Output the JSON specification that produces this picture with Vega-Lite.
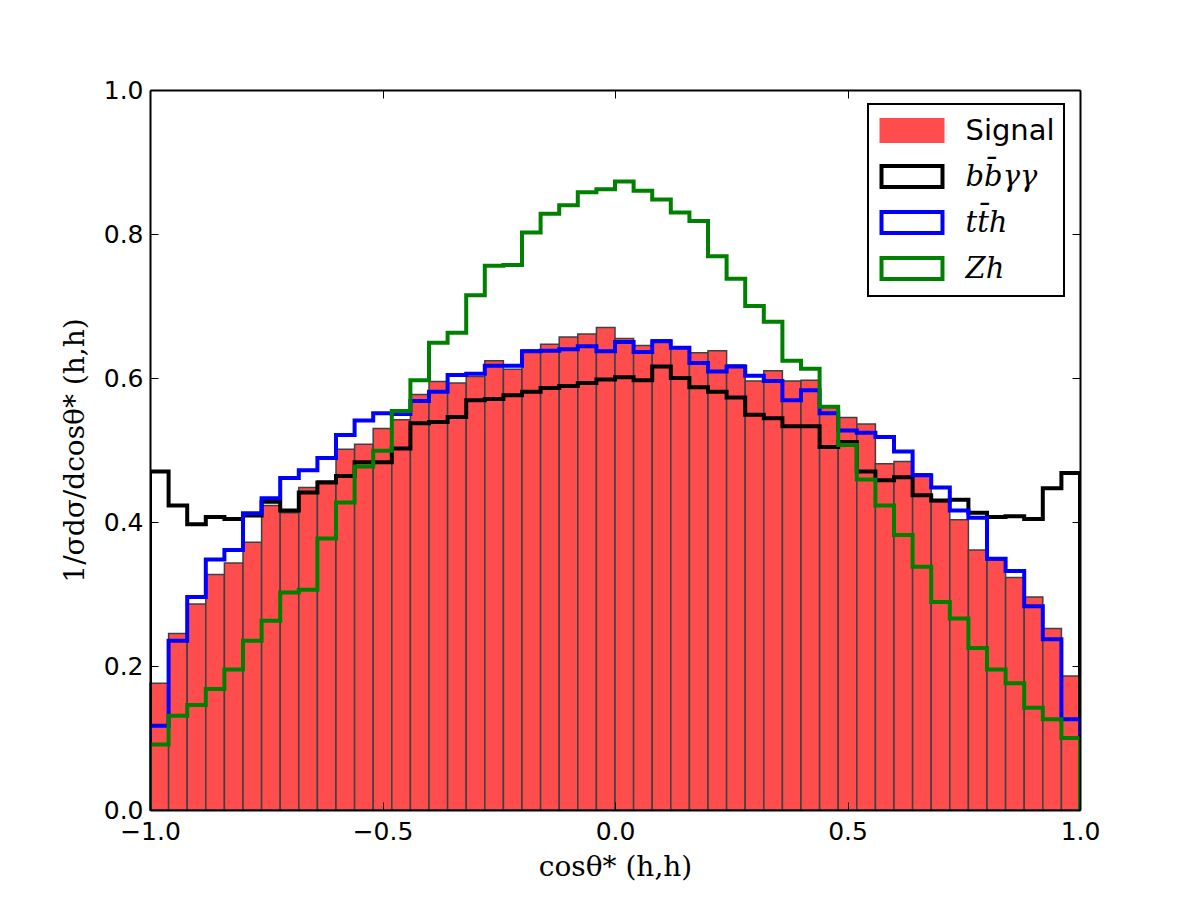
{
  "$schema": "https://vega.github.io/schema/vega-lite/v6.json",
  "width": 930,
  "height": 720,
  "autosize": "none",
  "padding": {"left": 150, "top": 90, "right": 120, "bottom": 90},
  "background": "white",
  "config": {"view": {"stroke": null}, "font": "DejaVu Sans", "legend": {"strokeWidth": 2}},
  "datasets": {
    "signal": [
      {"series": "Signal", "lo": -1.00, "hi": -0.96, "v": 0.176},
      {"series": "Signal", "lo": -0.96, "hi": -0.92, "v": 0.245},
      {"series": "Signal", "lo": -0.92, "hi": -0.88, "v": 0.286},
      {"series": "Signal", "lo": -0.88, "hi": -0.84, "v": 0.327},
      {"series": "Signal", "lo": -0.84, "hi": -0.80, "v": 0.343},
      {"series": "Signal", "lo": -0.80, "hi": -0.76, "v": 0.372},
      {"series": "Signal", "lo": -0.76, "hi": -0.72, "v": 0.423},
      {"series": "Signal", "lo": -0.72, "hi": -0.68, "v": 0.413},
      {"series": "Signal", "lo": -0.68, "hi": -0.64, "v": 0.448},
      {"series": "Signal", "lo": -0.64, "hi": -0.60, "v": 0.457},
      {"series": "Signal", "lo": -0.60, "hi": -0.56, "v": 0.501},
      {"series": "Signal", "lo": -0.56, "hi": -0.52, "v": 0.508},
      {"series": "Signal", "lo": -0.52, "hi": -0.48, "v": 0.530},
      {"series": "Signal", "lo": -0.48, "hi": -0.44, "v": 0.542},
      {"series": "Signal", "lo": -0.44, "hi": -0.40, "v": 0.577},
      {"series": "Signal", "lo": -0.40, "hi": -0.36, "v": 0.595},
      {"series": "Signal", "lo": -0.36, "hi": -0.32, "v": 0.593},
      {"series": "Signal", "lo": -0.32, "hi": -0.28, "v": 0.602},
      {"series": "Signal", "lo": -0.28, "hi": -0.24, "v": 0.624},
      {"series": "Signal", "lo": -0.24, "hi": -0.20, "v": 0.612},
      {"series": "Signal", "lo": -0.20, "hi": -0.16, "v": 0.639},
      {"series": "Signal", "lo": -0.16, "hi": -0.12, "v": 0.647},
      {"series": "Signal", "lo": -0.12, "hi": -0.08, "v": 0.657},
      {"series": "Signal", "lo": -0.08, "hi": -0.04, "v": 0.661},
      {"series": "Signal", "lo": -0.04, "hi": 0.00, "v": 0.670},
      {"series": "Signal", "lo": 0.00, "hi": 0.04, "v": 0.655},
      {"series": "Signal", "lo": 0.04, "hi": 0.08, "v": 0.645},
      {"series": "Signal", "lo": 0.08, "hi": 0.12, "v": 0.653},
      {"series": "Signal", "lo": 0.12, "hi": 0.16, "v": 0.643},
      {"series": "Signal", "lo": 0.16, "hi": 0.20, "v": 0.635},
      {"series": "Signal", "lo": 0.20, "hi": 0.24, "v": 0.638},
      {"series": "Signal", "lo": 0.24, "hi": 0.28, "v": 0.618},
      {"series": "Signal", "lo": 0.28, "hi": 0.32, "v": 0.596},
      {"series": "Signal", "lo": 0.32, "hi": 0.36, "v": 0.610},
      {"series": "Signal", "lo": 0.36, "hi": 0.40, "v": 0.596},
      {"series": "Signal", "lo": 0.40, "hi": 0.44, "v": 0.597},
      {"series": "Signal", "lo": 0.44, "hi": 0.48, "v": 0.560},
      {"series": "Signal", "lo": 0.48, "hi": 0.52, "v": 0.545},
      {"series": "Signal", "lo": 0.52, "hi": 0.56, "v": 0.536},
      {"series": "Signal", "lo": 0.56, "hi": 0.60, "v": 0.481},
      {"series": "Signal", "lo": 0.60, "hi": 0.64, "v": 0.484},
      {"series": "Signal", "lo": 0.64, "hi": 0.68, "v": 0.467},
      {"series": "Signal", "lo": 0.68, "hi": 0.72, "v": 0.428},
      {"series": "Signal", "lo": 0.72, "hi": 0.76, "v": 0.403},
      {"series": "Signal", "lo": 0.76, "hi": 0.80, "v": 0.361},
      {"series": "Signal", "lo": 0.80, "hi": 0.84, "v": 0.347},
      {"series": "Signal", "lo": 0.84, "hi": 0.88, "v": 0.323},
      {"series": "Signal", "lo": 0.88, "hi": 0.92, "v": 0.296},
      {"series": "Signal", "lo": 0.92, "hi": 0.96, "v": 0.252},
      {"series": "Signal", "lo": 0.96, "hi": 1.00, "v": 0.186}
    ],
    "lines": [
      {"k": 0, "x": -1.00, "bb": 0, "tth": 0, "zh": 0},
      {"k": 1, "x": -1.00, "bb": 0.470, "tth": 0.117, "zh": 0.091},
      {"k": 2, "x": -0.96, "bb": 0.423, "tth": 0.235, "zh": 0.131},
      {"k": 3, "x": -0.92, "bb": 0.397, "tth": 0.296, "zh": 0.146},
      {"k": 4, "x": -0.88, "bb": 0.407, "tth": 0.348, "zh": 0.168},
      {"k": 5, "x": -0.84, "bb": 0.404, "tth": 0.361, "zh": 0.195},
      {"k": 6, "x": -0.80, "bb": 0.409, "tth": 0.412, "zh": 0.235},
      {"k": 7, "x": -0.76, "bb": 0.428, "tth": 0.433, "zh": 0.263},
      {"k": 8, "x": -0.72, "bb": 0.416, "tth": 0.461, "zh": 0.302},
      {"k": 9, "x": -0.68, "bb": 0.441, "tth": 0.472, "zh": 0.306},
      {"k": 10, "x": -0.64, "bb": 0.455, "tth": 0.489, "zh": 0.377},
      {"k": 11, "x": -0.60, "bb": 0.464, "tth": 0.521, "zh": 0.427},
      {"k": 12, "x": -0.56, "bb": 0.483, "tth": 0.541, "zh": 0.477},
      {"k": 13, "x": -0.52, "bb": 0.483, "tth": 0.551, "zh": 0.499},
      {"k": 14, "x": -0.48, "bb": 0.502, "tth": 0.550, "zh": 0.554},
      {"k": 15, "x": -0.44, "bb": 0.537, "tth": 0.568, "zh": 0.597},
      {"k": 16, "x": -0.40, "bb": 0.539, "tth": 0.581, "zh": 0.649},
      {"k": 17, "x": -0.36, "bb": 0.546, "tth": 0.604, "zh": 0.663},
      {"k": 18, "x": -0.32, "bb": 0.569, "tth": 0.606, "zh": 0.715},
      {"k": 19, "x": -0.28, "bb": 0.571, "tth": 0.617, "zh": 0.756},
      {"k": 20, "x": -0.24, "bb": 0.576, "tth": 0.617, "zh": 0.757},
      {"k": 21, "x": -0.20, "bb": 0.581, "tth": 0.637, "zh": 0.802},
      {"k": 22, "x": -0.16, "bb": 0.586, "tth": 0.638, "zh": 0.828},
      {"k": 23, "x": -0.12, "bb": 0.589, "tth": 0.640, "zh": 0.840},
      {"k": 24, "x": -0.08, "bb": 0.593, "tth": 0.644, "zh": 0.858},
      {"k": 25, "x": -0.04, "bb": 0.598, "tth": 0.637, "zh": 0.862},
      {"k": 26, "x": 0.00, "bb": 0.601, "tth": 0.650, "zh": 0.873},
      {"k": 27, "x": 0.04, "bb": 0.597, "tth": 0.636, "zh": 0.860},
      {"k": 28, "x": 0.08, "bb": 0.616, "tth": 0.651, "zh": 0.848},
      {"k": 29, "x": 0.12, "bb": 0.600, "tth": 0.642, "zh": 0.830},
      {"k": 30, "x": 0.16, "bb": 0.587, "tth": 0.621, "zh": 0.818},
      {"k": 31, "x": 0.20, "bb": 0.581, "tth": 0.609, "zh": 0.769},
      {"k": 32, "x": 0.24, "bb": 0.573, "tth": 0.616, "zh": 0.738},
      {"k": 33, "x": 0.28, "bb": 0.549, "tth": 0.603, "zh": 0.700},
      {"k": 34, "x": 0.32, "bb": 0.544, "tth": 0.596, "zh": 0.678},
      {"k": 35, "x": 0.36, "bb": 0.533, "tth": 0.569, "zh": 0.624},
      {"k": 36, "x": 0.40, "bb": 0.533, "tth": 0.583, "zh": 0.613},
      {"k": 37, "x": 0.44, "bb": 0.504, "tth": 0.551, "zh": 0.560},
      {"k": 38, "x": 0.48, "bb": 0.511, "tth": 0.527, "zh": 0.507},
      {"k": 39, "x": 0.52, "bb": 0.470, "tth": 0.524, "zh": 0.459},
      {"k": 40, "x": 0.56, "bb": 0.458, "tth": 0.518, "zh": 0.423},
      {"k": 41, "x": 0.60, "bb": 0.462, "tth": 0.498, "zh": 0.382},
      {"k": 42, "x": 0.64, "bb": 0.437, "tth": 0.465, "zh": 0.338},
      {"k": 43, "x": 0.68, "bb": 0.430, "tth": 0.448, "zh": 0.289},
      {"k": 44, "x": 0.72, "bb": 0.431, "tth": 0.416, "zh": 0.266},
      {"k": 45, "x": 0.76, "bb": 0.413, "tth": 0.406, "zh": 0.225},
      {"k": 46, "x": 0.80, "bb": 0.407, "tth": 0.349, "zh": 0.195},
      {"k": 47, "x": 0.84, "bb": 0.408, "tth": 0.332, "zh": 0.176},
      {"k": 48, "x": 0.88, "bb": 0.404, "tth": 0.283, "zh": 0.142},
      {"k": 49, "x": 0.92, "bb": 0.447, "tth": 0.237, "zh": 0.126},
      {"k": 50, "x": 0.96, "bb": 0.468, "tth": 0.126, "zh": 0.100},
      {"k": 51, "x": 1.00, "bb": 0.468, "tth": 0.126, "zh": 0.100},
      {"k": 52, "x": 1.00, "bb": 0, "tth": 0, "zh": 0}
    ]
  },
  "layer": [
    {
      "data": {"name": "signal"},
      "mark": {"type": "bar", "stroke": "#404040", "strokeWidth": 1.5},
      "encoding": {
        "x": {
          "field": "lo", "type": "quantitative",
          "scale": {"domain": [-1, 1], "nice": false, "zero": false},
          "axis": {
            "orient": "bottom", "values": [-1, -0.5, 0, 0.5, 1], "format": ".1f",
            "title": "cosθ* (h,h)", "titleFont": "DejaVu Serif", "titleFontSize": 28,
            "titleFontWeight": "normal", "titleColor": "black", "titlePadding": 9,
            "labelFont": "DejaVu Sans", "labelFontSize": 25, "labelColor": "black",
            "labelPadding": 17, "labelFlush": false, "labelOverlap": false,
            "tickSize": -8, "tickWidth": 1, "tickColor": "black",
            "domainColor": "black", "domainWidth": 2, "grid": false, "zindex": 1
          }
        },
        "x2": {"field": "hi"},
        "y": {
          "field": "v", "type": "quantitative",
          "scale": {"domain": [0, 1], "nice": false, "zero": true},
          "axis": {
            "orient": "left", "values": [0, 0.2, 0.4, 0.6, 0.8, 1.0], "format": ".1f",
            "title": "1/σdσ/dcosθ* (h,h)", "titleFont": "DejaVu Serif", "titleFontSize": 28,
            "titleFontWeight": "normal", "titleColor": "black", "titlePadding": 14,
            "labelFont": "DejaVu Sans", "labelFontSize": 25, "labelColor": "black",
            "labelPadding": 15, "labelFlush": false, "labelOverlap": false,
            "tickSize": -8, "tickWidth": 1, "tickColor": "black",
            "domainColor": "black", "domainWidth": 2, "grid": false, "zindex": 1
          }
        },
        "y2": {"datum": 0},
        "fill": {
          "field": "series", "type": "nominal",
          "scale": {"domain": ["Signal", "bb", "tth", "zh"], "range": ["#ff4d4d", "transparent", "transparent", "transparent"]},
          "legend": {
            "orient": "none", "legendX": 718, "legendY": 14, "title": null,
            "padding": 9, "strokeColor": "black", "fillColor": "white",
            "symbolType": "M-2,-0.688H2V0.688H-2Z", "symbolSize": 930, "symbolStrokeWidth": 4,
            "symbolOffset": 17.5,
            "labelFontSize": 29, "labelColor": "black", "labelOffset": 36, "rowPadding": 9,
            "labelExpr": "datum.value == 'bb' ? 'bb\u0304γγ' : datum.value == 'tth' ? 'tt\u0304h' : datum.value == 'zh' ? 'Zh' : 'Signal'"
          }
        }
      }
    },
    {
      "data": {"name": "lines"},
      "transform": [{"fold": ["bb", "tth", "zh"], "as": ["series", "y"]}],
      "mark": {"type": "line", "interpolate": "step-after", "strokeWidth": 4, "clip": true, "strokeJoin": "miter", "strokeCap": "butt"},
      "encoding": {
        "x": {
          "field": "x", "type": "quantitative",
          "axis": {
            "orient": "top", "values": [-1, -0.5, 0, 0.5, 1], "labels": false, "title": null,
            "tickSize": -8, "tickWidth": 1, "tickColor": "black",
            "domainColor": "black", "domainWidth": 2, "grid": false, "zindex": 1
          }
        },
        "y": {
          "field": "y", "type": "quantitative",
          "axis": {
            "orient": "right", "values": [0, 0.2, 0.4, 0.6, 0.8, 1.0], "labels": false, "title": null,
            "tickSize": -8, "tickWidth": 1, "tickColor": "black",
            "domainColor": "black", "domainWidth": 2, "grid": false, "zindex": 1
          }
        },
        "order": {"field": "k", "type": "quantitative"},
        "stroke": {
          "field": "series", "type": "nominal",
          "scale": {"domain": ["Signal", "bb", "tth", "zh"], "range": ["#ff4d4d", "#000000", "#0000ff", "#008000"]},
          "legend": {
            "orient": "none", "legendX": 718, "legendY": 14, "title": null,
            "padding": 9, "strokeColor": "black", "fillColor": "white",
            "symbolType": "M-2,-0.688H2V0.688H-2Z", "symbolSize": 930, "symbolStrokeWidth": 4,
            "symbolOffset": 17.5,
            "labelFontSize": 29, "labelColor": "black", "labelOffset": 36, "rowPadding": 9,
            "labelExpr": "datum.value == 'bb' ? 'bb\u0304γγ' : datum.value == 'tth' ? 'tt\u0304h' : datum.value == 'zh' ? 'Zh' : 'Signal'",
            "encode": {
              "labels": {
                "update": {
                  "font": {"signal": "datum.value == 'Signal' ? 'DejaVu Sans' : 'DejaVu Serif'"},
                  "fontStyle": {"signal": "datum.value == 'Signal' ? 'normal' : 'italic'"}
                }
              }
            }
          }
        }
      }
    }
  ],
  "resolve": {"axis": {"x": "independent", "y": "independent"}}
}
